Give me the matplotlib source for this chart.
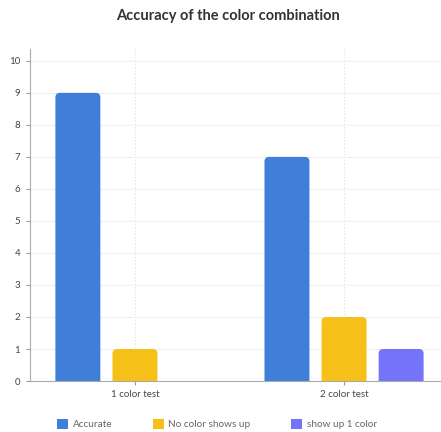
import matplotlib.pyplot as plt
from matplotlib.patches import FancyBboxPatch, Patch
import numpy as np

plt.rcParams['font.family'] = ['Lato', 'DejaVu Sans']

categories = ['1 color test', '2 color test']
series = ['Accurate', 'No color shows up', 'show up 1 color']
accurate = [9, 7]
no_color = [1, 2]
one_color = [0, 1]
colors = ['#3f7fd9', '#f5c118', '#7474f8']

fig = plt.figure(figsize=(4.41, 4.32), dpi=100)
ax = fig.add_axes([0.068, 0.118, 0.935, 0.769])

x = np.arange(len(categories))
offset = 0.273
width = 0.215
values = [accurate, no_color, one_color]

# rounded-top bars: draw plain bars, then swap each for a rounded box
r = 0.022
aspect = (1 / 32) / (1 / 209)
for i, (vals, c) in enumerate(zip(values, colors)):
    bars = ax.bar(x + (i - 1) * offset, vals, width, color=c)
    for b in bars:
        b.set_visible(False)
        h = b.get_height()
        if h <= 0:
            continue
        p = FancyBboxPatch((b.get_x(), -0.5), b.get_width(), h + 0.5,
                           boxstyle=f"round,pad=0,rounding_size={r}",
                           mutation_aspect=aspect, fc=c, ec='none',
                           clip_on=True, zorder=3)
        ax.add_patch(p)

ax.set_xlim(-0.502, 1.47)
ax.set_ylim(0, 10.375)
ax.set_yticks(range(0, 11))
ax.set_xticks(x)
ax.set_xticklabels(categories)
ax.tick_params(axis='both', labelsize=7, colors='#999999', labelcolor='#444444',
               length=3, width=0.8)
ax.tick_params(axis='y', pad=4)

ax.grid(axis='y', color='#efefef', lw=0.8, zorder=0)
for xi in x:
    ax.axvline(xi, color='#dddddd', lw=0.8, ls=(0, (1, 2)), zorder=0)
ax.set_axisbelow(True)

for s in ['top', 'right']:
    ax.spines[s].set_visible(False)
for s in ['left', 'bottom']:
    ax.spines[s].set_color('#aaaaaa')
    ax.spines[s].set_linewidth(0.8)

fig.text(0.517, 0.962, 'Accuracy of the color combination', ha='center', va='center',
         fontsize=10.5, fontweight='bold', color='#333333')

handles = [Patch(facecolor=c, edgecolor='none') for c in colors]
leg = fig.legend(handles, series, loc='center', bbox_to_anchor=(0.492, 0.018), ncol=3,
                 frameon=False, fontsize=7.2, handlelength=1.1, handleheight=1.1,
                 handletextpad=0.45, columnspacing=4.05)
for t in leg.get_texts():
    t.set_color('#666666')

fig.savefig('out.png', dpi=100)
